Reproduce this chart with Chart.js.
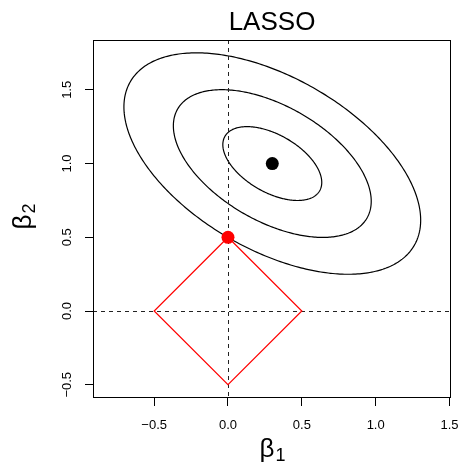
<!DOCTYPE html>
<html>
<head>
<meta charset="utf-8">
<script src="https://cdn.jsdelivr.net/npm/chart.js@4/dist/chart.umd.min.js"></script>
<style>
  html, body { margin: 0; padding: 0; background: #fff; }
</style>
</head>
<body>
<canvas id="chart" width="463" height="464"></canvas>
<script>
// axis ticks
const xTicks = [-0.5, 0, 0.5, 1, 1.5];
const xTickLabels = ['\u22120.5', '0.0', '0.5', '1.0', '1.5'];
const yTicks = [-0.5, 0, 0.5, 1, 1.5];
const yTickLabels = ['\u22120.5', '0.0', '0.5', '1.0', '1.5'];

// lasso constraint region |b1| + |b2| <= 0.5
const diamondX = [0, 0.5, 0, -0.5, 0];
const diamondY = [0.5, 0, -0.5, 0, 0.5];

// least squares estimate and lasso solution
const betaHat = [0.3, 1.0];
const lassoBeta = [0, 0.5];

// RSS contours (ellipses around betaHat)
const contourMajor = [0.37, 0.74, 1.11];
const contourMinor = [0.195, 0.39, 0.584];
const contourTilt = -30; // degrees

// dashed reference lines
const zeroLines = [0];

const FONT = '"Liberation Sans", Arial, Helvetica, sans-serif';

const overlay = {
  id: 'overlay',
  beforeDatasetsDraw(chart) {
    const { ctx, chartArea: a, scales: { x, y } } = chart;
    ctx.save();
    ctx.beginPath();
    ctx.rect(a.left, a.top, a.right - a.left, a.bottom - a.top);
    ctx.clip();

    // contours
    ctx.strokeStyle = '#000';
    ctx.lineWidth = 1.2;
    const th = contourTilt * Math.PI / 180;
    contourMajor.forEach((A, k) => {
      const B = contourMinor[k];
      ctx.beginPath();
      for (let i = 0; i <= 360; i++) {
        const t = i * Math.PI / 180;
        const dx = A * Math.cos(t) * Math.cos(th) - B * Math.sin(t) * Math.sin(th);
        const dy = A * Math.cos(t) * Math.sin(th) + B * Math.sin(t) * Math.cos(th);
        const px = x.getPixelForValue(betaHat[0] + dx);
        const py = y.getPixelForValue(betaHat[1] + dy);
        if (i === 0) ctx.moveTo(px, py); else ctx.lineTo(px, py);
      }
      ctx.closePath();
      ctx.stroke();
    });

    // dashed axes through zero
    ctx.lineWidth = 1;
    ctx.setLineDash([4, 4]);
    ctx.strokeStyle = '#222';
    zeroLines.forEach(v => {
      const px = Math.round(x.getPixelForValue(v)) + 0.5;
      ctx.beginPath();
      ctx.moveTo(px, a.top);
      ctx.lineTo(px, a.bottom);
      ctx.stroke();
      const py = Math.round(y.getPixelForValue(v)) + 0.5;
      ctx.beginPath();
      ctx.moveTo(a.left, py);
      ctx.lineTo(a.right, py);
      ctx.stroke();
    });
    ctx.restore();
  },
  afterDraw(chart) {
    const { ctx, chartArea: a, scales: { x, y } } = chart;
    ctx.save();
    // box
    ctx.strokeStyle = '#000';
    ctx.lineWidth = 1;
    const l = Math.round(a.left) + 0.5, r = Math.round(a.right) - 0.5;
    const t = Math.round(a.top) + 0.5, b = Math.round(a.bottom) - 0.5;
    ctx.strokeRect(l, t, r - l, b - t);

    ctx.fillStyle = '#000';
    // tick labels
    ctx.font = '13px ' + FONT;
    ctx.textAlign = 'center';
    ctx.textBaseline = 'middle';
    xTicks.forEach((v, i) => {
      ctx.fillText(xTickLabels[i], x.getPixelForValue(v), 425);
    });
    yTicks.forEach((v, i) => {
      ctx.save();
      ctx.translate(67, y.getPixelForValue(v));
      ctx.rotate(-Math.PI / 2);
      ctx.fillText(yTickLabels[i], 0, 0);
      ctx.restore();
    });

    // title
    ctx.font = '26px ' + FONT;
    ctx.textBaseline = 'alphabetic';
    ctx.fillText('LASSO', (a.left + a.right) / 2, 30);

    // axis titles with subscripts
    const drawSub = (main, sub) => {
      ctx.font = '26px ' + FONT;
      const w1 = ctx.measureText(main).width;
      ctx.font = '18px ' + FONT;
      const w2 = ctx.measureText(sub).width;
      const start = -(w1 + w2) / 2;
      ctx.textAlign = 'left';
      ctx.font = '26px ' + FONT;
      ctx.fillText(main, start, 0);
      ctx.font = '18px ' + FONT;
      ctx.fillText(sub, start + w1 + 1, 4);
    };
    ctx.save();
    ctx.translate((a.left + a.right) / 2, 457);
    drawSub('\u03b2', '1');
    ctx.restore();
    ctx.save();
    ctx.translate(31, 217);
    ctx.rotate(-Math.PI / 2);
    drawSub('\u03b2', '2');
    ctx.restore();
    ctx.restore();
  }
};

new Chart(document.getElementById('chart'), {
  type: 'scatter',
  data: {
    datasets: [
      {
        data: diamondX.map((v, i) => ({ x: v, y: diamondY[i] })),
        showLine: true,
        borderColor: '#ff0000',
        borderWidth: 1.2,
        pointRadius: 0,
        fill: false
      },
      {
        data: [{ x: betaHat[0], y: betaHat[1] }],
        pointRadius: 6.5,
        backgroundColor: '#000',
        borderWidth: 0
      },
      {
        data: [{ x: lassoBeta[0], y: lassoBeta[1] }],
        pointRadius: 6.5,
        backgroundColor: '#ff0000',
        borderWidth: 0
      }
    ]
  },
  options: {
    responsive: false,
    animation: false,
    events: [],
    layout: { padding: { top: 40, right: 12, left: 0, bottom: 0 } },
    plugins: { legend: { display: false }, tooltip: { enabled: false } },
    scales: {
      x: {
        type: 'linear',
        min: -0.914,
        max: 1.51,
        afterBuildTicks: s => { s.ticks = xTicks.map(v => ({ value: v })); },
        afterFit: s => { s.height = 66; },
        ticks: { display: false },
        border: { display: false },
        grid: { drawOnChartArea: false, drawTicks: true, tickLength: 8, color: '#000' }
      },
      y: {
        type: 'linear',
        min: -0.59,
        max: 1.838,
        afterBuildTicks: s => { s.ticks = yTicks.map(v => ({ value: v })); },
        afterFit: s => { s.width = 93; },
        ticks: { display: false },
        border: { display: false },
        grid: { drawOnChartArea: false, drawTicks: true, tickLength: 8, color: '#000' }
      }
    }
  },
  plugins: [overlay]
});
</script>
</body>
</html>
